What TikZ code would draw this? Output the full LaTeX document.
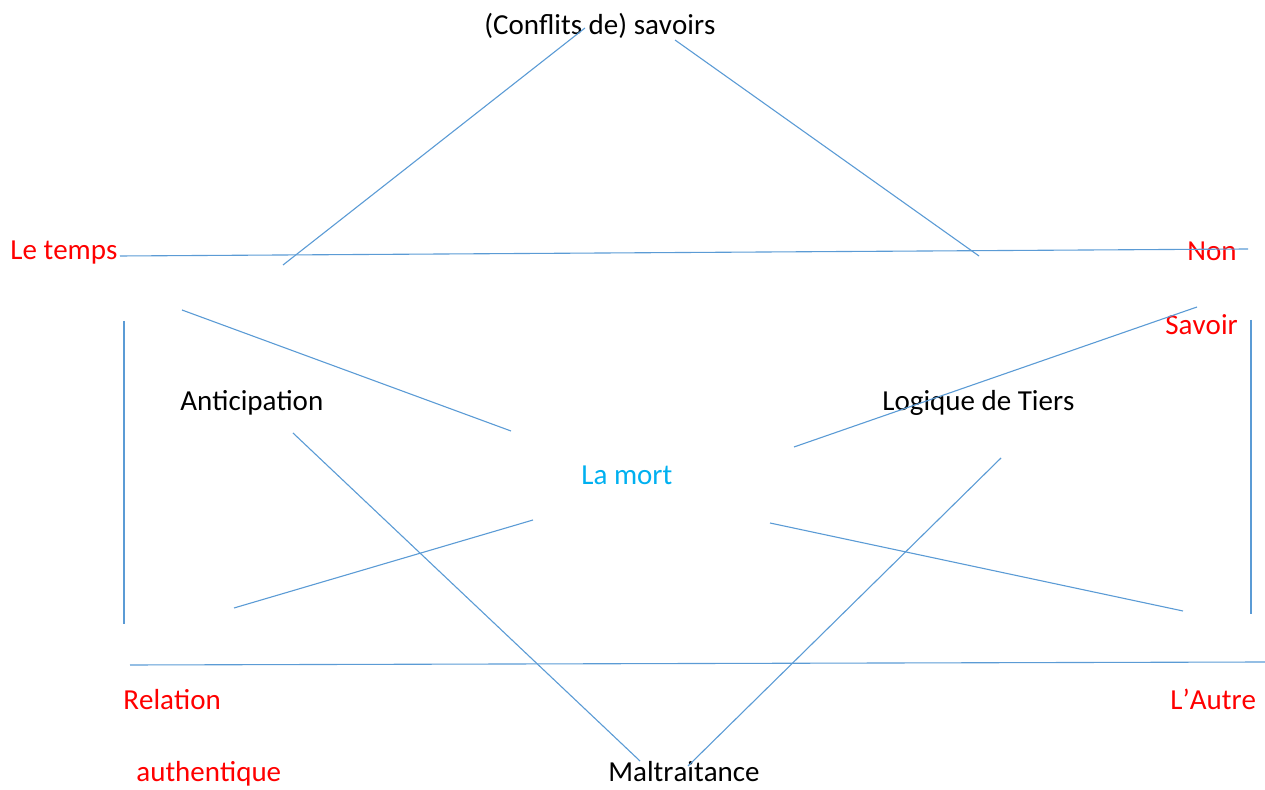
\documentclass[tikz,border=0pt]{standalone}
\usepackage{fontspec}
\setmainfont[Kerning=Off]{Carlito}
\usepackage{tikz}
\definecolor{trait}{HTML}{5B9BD5}
\definecolor{ciel}{HTML}{00B0F0}
\tikzstyle{mot}=[anchor=base west, inner sep=0pt, font=\fontsize{14.5}{17}\selectfont]
\tikzstyle{rouge}=[mot, text=red]
\tikzstyle{noir}=[mot, text=black]
\tikzstyle{bleu}=[mot, text=ciel]
\tikzstyle{ligne}=[draw=trait, line width=0.55pt]

\begin{document}
\begin{tikzpicture}[x=0.5pt, y=-0.5pt]
            \useasboundingbox (0,0) rectangle (1265,790);
            % textes
            \node [noir] (savoirs) at (484,35) {(Conflits de) savoirs};
            \node [rouge] (temps) at (10,260) {Le temps};
            \node [rouge] (non) at (1187,261) {Non};
            \node [rouge] (savoir) at (1165,335) {Savoir};
            \node [noir] (antic) at (180,411) {Anticipation};
            \node [noir] (tiers) at (882,411) {Logique de Tiers};
            \node [bleu] (mort) at (581,485) {La mort};
            \node [rouge] (relation) at (123,710) {Relation};
            \node [rouge] (autre) at (1170,710) {L’Autre};
            \node [rouge] (authentique) at (136,782) {authentique};
            \node [noir] (maltr) at (608,782) {Maltraitance};
            % extremites des traits
            \coordinate (s1) at (585,28);   \coordinate (s2) at (283,265);
            \coordinate (s3) at (675,40);   \coordinate (s4) at (979,256);
            \coordinate (h1) at (120,256);  \coordinate (h2) at (1248,249);
            \coordinate (a1) at (182,310);  \coordinate (a2) at (511,431);
            \coordinate (b1) at (1197,307); \coordinate (b2) at (794,447);
            \coordinate (g1) at (124,321);  \coordinate (g2) at (124,624);
            \coordinate (d1) at (1251,320); \coordinate (d2) at (1251,614);
            \coordinate (m1) at (293,433);  \coordinate (m2) at (640,761);
            \coordinate (n1) at (1001,458); \coordinate (n2) at (688,766);
            \coordinate (c1) at (533,520);  \coordinate (c2) at (234,608);
            \coordinate (e1) at (770,523);  \coordinate (e2) at (1183,611);
            \coordinate (k1) at (130,665);  \coordinate (k2) at (1265,662);
            \path[ligne] (s1) edge (s2);
            \path[ligne] (s3) edge (s4);
            \path[ligne] (h1) edge (h2);
            \path[ligne] (a1) edge (a2);
            \path[ligne] (b1) edge (b2);
            \path[ligne] (g1) edge (g2);
            \path[ligne] (d1) edge (d2);
            \path[ligne] (m1) edge (m2);
            \path[ligne] (n1) edge (n2);
            \path[ligne] (c1) edge (c2);
            \path[ligne] (e1) edge (e2);
            \path[ligne] (k1) edge (k2);
        \end{tikzpicture}
\end{document}
